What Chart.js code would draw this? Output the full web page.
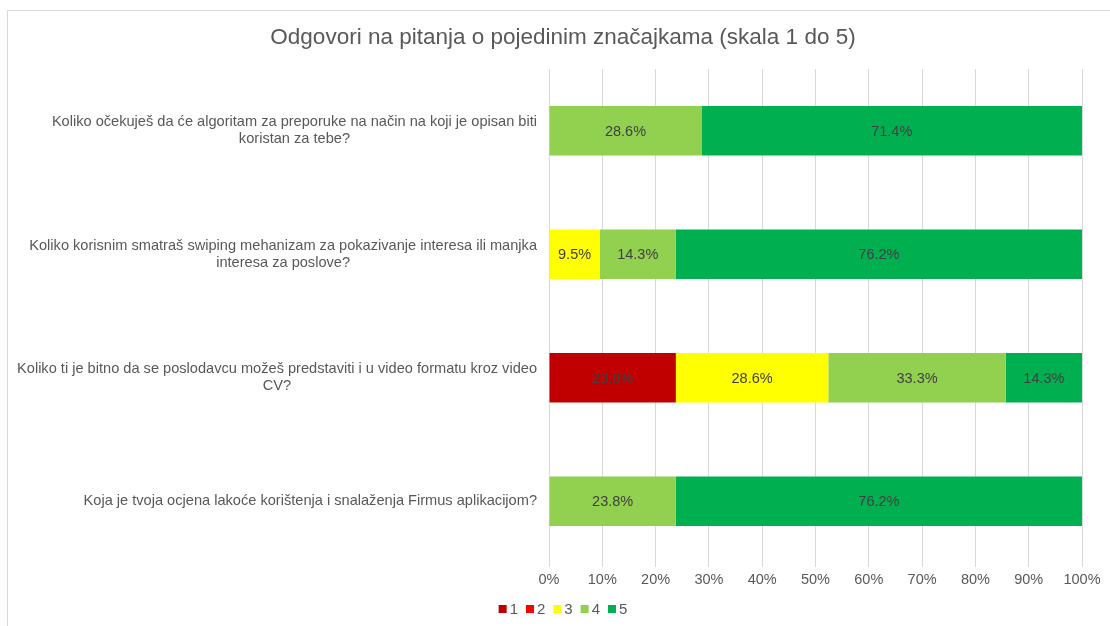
<!DOCTYPE html>
<html lang="hr">
<head>
<meta charset="UTF-8">
<title>Odgovori na pitanja</title>
<style>
  html, body { margin: 0; padding: 0; background: #fff; overflow: hidden; }
  .okvir { position: absolute; left: 7px; top: 10px; width: 1120px; height: 640px; border: 1px solid #d9d9d9; }
  #grafikon { position: absolute; left: 0; top: 0; }
</style>
</head>
<body>
<div class="okvir"></div>
<canvas id="grafikon" width="1110" height="626"></canvas>
<script src="https://cdn.jsdelivr.net/npm/chart.js"></script>
<script>
// pitanja (kategorije), svako u redovima kako je prelomljeno na slici
var pitanja = [
  ["Koliko očekuješ da će algoritam za preporuke na način na koji je opisan biti", "koristan za tebe?"],
  ["Koliko korisnim smatraš swiping mehanizam za pokazivanje interesa ili manjka", "interesa za poslove?"],
  ["Koliko ti je bitno da se poslodavcu možeš predstaviti i u video formatu kroz video", "CV?"],
  ["Koja je tvoja ocjena lakoće korištenja i snalaženja Firmus aplikacijom?"]
];
var ocjene = ["1", "2", "3", "4", "5"];
var ocjena1 = [0, 0, 23.8, 0];
var ocjena2 = [0, 0, 0, 0];
var ocjena3 = [0, 9.5, 28.6, 0];
var ocjena4 = [28.6, 14.3, 33.3, 23.8];
var ocjena5 = [71.4, 76.2, 14.3, 76.2];
var boje = ['#C00000', '#FF0000', '#FFFF00', '#92D050', '#00B050'];
var naslov = 'Odgovori na pitanja o pojedinim značajkama (skala 1 do 5)';

Chart.defaults.font.family = "'Liberation Sans', Arial, sans-serif";
Chart.defaults.color = '#595959';

// postotci u trakama
var oznakePlugin = {
  id: 'oznake',
  afterDatasetsDraw: function (chart) {
    var ctx = chart.ctx;
    ctx.save();
    ctx.font = "14.5px 'Liberation Sans', Arial, sans-serif";
    ctx.fillStyle = '#404040';
    ctx.textAlign = 'center';
    ctx.textBaseline = 'middle';
    chart.data.datasets.forEach(function (ds, i) {
      var meta = chart.getDatasetMeta(i);
      meta.data.forEach(function (el, j) {
        var v = ds.data[j];
        if (!v) return;
        ctx.fillText(v.toFixed(1) + '%', (el.x + el.base) / 2, el.y + 1);
      });
    });
    ctx.restore();
  }
};

// nazivi pitanja: blok desno poravnat, redovi centrirani
var pitanjaPlugin = {
  id: 'pitanja',
  afterDraw: function (chart) {
    var ctx = chart.ctx;
    var y = chart.scales.y;
    var desno = chart.chartArea.left - 12;
    var razmak = 17;
    ctx.save();
    ctx.font = "14.6px 'Liberation Sans', Arial, sans-serif";
    ctx.fillStyle = '#595959';
    ctx.textAlign = 'center';
    ctx.textBaseline = 'middle';
    pitanja.forEach(function (redovi, i) {
      var sirina = 0;
      redovi.forEach(function (r) { sirina = Math.max(sirina, ctx.measureText(r).width); });
      var sredina = desno - sirina / 2;
      var yc = y.getPixelForTick(i);
      var pocetak = yc - (redovi.length - 1) * razmak / 2;
      redovi.forEach(function (r, k) {
        ctx.fillText(r, sredina, pocetak + k * razmak);
      });
    });
    ctx.restore();
  }
};

// legenda ispod grafa (kvadratić, tekst odmah uz njega)
var legendaPlugin = {
  id: 'legenda',
  afterDraw: function (chart) {
    var ctx = chart.ctx;
    var kutija = 8, razmakTekst = 3, razmakStavka = 8;
    ctx.save();
    ctx.font = "15px 'Liberation Sans', Arial, sans-serif";
    ctx.textBaseline = 'middle';
    ctx.textAlign = 'left';
    var stavke = chart.data.datasets.map(function (ds) {
      return { tekst: ds.label, boja: ds.backgroundColor, w: ctx.measureText(ds.label).width };
    });
    var ukupno = 0;
    stavke.forEach(function (s, i) {
      ukupno += kutija + razmakTekst + s.w + (i < stavke.length - 1 ? razmakStavka : 0);
    });
    var sredina = (chart.options.layout.padding.left + chart.chartArea.right) / 2;
    var x = sredina - ukupno / 2;
    var yc = chart.chartArea.bottom + 46;
    stavke.forEach(function (s) {
      ctx.fillStyle = s.boja;
      ctx.fillRect(x, yc - kutija / 2, kutija, kutija);
      x += kutija + razmakTekst;
      ctx.fillStyle = '#595959';
      ctx.fillText(s.tekst, x, yc + 1);
      x += s.w + razmakStavka;
    });
    ctx.restore();
  }
};

var skupovi = [ocjena1, ocjena2, ocjena3, ocjena4, ocjena5].map(function (d, i) {
  return {
    label: ocjene[i],
    data: d,
    backgroundColor: boje[i],
    borderWidth: 0,
    barPercentage: 1,
    categoryPercentage: 0.4
  };
});

var ctx = document.getElementById('grafikon').getContext('2d');
var grafikon = new Chart(ctx, {
  type: 'bar',
  data: {
    labels: pitanja.map(function (p) { return p.join(' '); }),
    datasets: skupovi
  },
  options: {
    indexAxis: 'y',
    responsive: false,
    animation: false,
    devicePixelRatio: 1,
    layout: { padding: { left: 44, right: 28, top: 0, bottom: 27 } },
    scales: {
      x: {
        stacked: true,
        min: 0,
        max: 100,
        grid: { color: '#d9d9d9', tickLength: 4, drawTicks: true },
        border: { display: false },
        ticks: {
          stepSize: 10,
          padding: 4,
          color: '#595959',
          font: { size: 14.5 },
          callback: function (v) { return v + '%'; }
        },
        afterFit: function (s) { s.height = 36; }
      },
      y: {
        stacked: true,
        grid: { display: false },
        border: { display: false },
        ticks: { display: false },
        afterFit: function (s) { s.width = 505; }
      }
    },
    plugins: {
      title: {
        display: true,
        text: naslov,
        color: '#595959',
        font: { size: 22.5, weight: 'normal' },
        padding: { top: 24, bottom: 18 }
      },
      legend: { display: false },
      tooltip: { enabled: false }
    }
  },
  plugins: [oznakePlugin, pitanjaPlugin, legendaPlugin]
});
</script>
</body>
</html>
